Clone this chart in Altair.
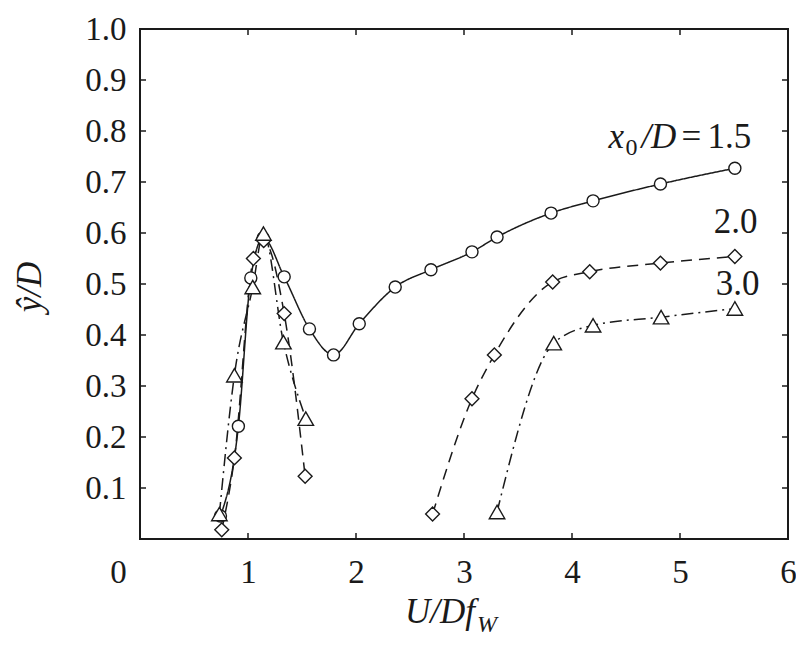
import altair as alt
import pandas as pd

# ---- data ----
series_names = ["1.5", "2.0", "3.0"]
series_shapes = ["circle", "diamond", "triangle-up"]
series_sizes = [145, 240, 230]

c_x = [0.745, 0.911, 1.026, 1.14, 1.335, 1.569, 1.792, 2.03, 2.363, 2.694, 3.074, 3.306, 3.806, 4.195, 4.819, 5.508]
c_y = [0.045, 0.221, 0.512, 0.59, 0.514, 0.412, 0.361, 0.422, 0.494, 0.528, 0.563, 0.592, 0.639, 0.663, 0.696, 0.727]
c_seg = ["a"] * len(c_x)

d_x = [0.757, 0.874, 1.05, 1.145, 1.335, 1.529, 2.709, 3.074, 3.281, 3.821, 4.164, 4.819, 5.508]
d_y = [0.018, 0.159, 0.55, 0.585, 0.442, 0.123, 0.049, 0.275, 0.361, 0.504, 0.524, 0.541, 0.554]
d_seg = ["a"] * 6 + ["b"] * 7

t_x = [0.735, 0.874, 1.044, 1.143, 1.328, 1.535, 3.306, 3.831, 4.195, 4.825, 5.508]
t_y = [0.049, 0.321, 0.494, 0.599, 0.386, 0.236, 0.053, 0.384, 0.419, 0.435, 0.452]
t_seg = ["a"] * 6 + ["b"] * 5

x_tick_values = [0, 1, 2, 3, 4, 5, 6]
y_tick_values = [0.1, 0.2, 0.3, 0.4, 0.5, 0.6, 0.7, 0.8, 0.9, 1.0]
x_minor = [1, 2, 3, 4, 5]
y_minor = [0.1, 0.2, 0.3, 0.4, 0.5, 0.6, 0.7, 0.8, 0.9]

label_text = ["2.0", "3.0"]
label_x = [5.514, 5.533]
label_y = [0.600, 0.478]
main_label_x = [4.337]
main_label_y = [0.766]

# ---- build tables ----
rows = []
for name, xs, ys, segs in [("1.5", c_x, c_y, c_seg), ("2.0", d_x, d_y, d_seg), ("3.0", t_x, t_y, t_seg)]:
    for i, (xv, yv, s) in enumerate(zip(xs, ys, segs)):
        rows.append({"series": name, "seg": name + s, "x": xv, "y": yv, "order": i})
df = pd.DataFrame(rows)

FONT = "Liberation Serif, Times New Roman, Times, DejaVu Serif, serif"
INK = "#1a1a1a"
W, H = 648, 510

xscale = alt.Scale(domain=[0, 6], nice=False, zero=False)
yscale = alt.Scale(domain=[0, 1], nice=False, zero=False)

X = alt.X("x:Q", scale=xscale, title=None,
          axis=alt.Axis(values=x_tick_values, format="d", labelFlush=False,
                        labelOffset={"condition": {"test": "datum.value == 0", "value": -22}, "value": 0},
                        labelPadding=17, labelFontSize=33, labelFont=FONT, labelColor=INK,
                        ticks=False, tickSize=0, domain=False, grid=False))
Y = alt.Y("y:Q", scale=yscale, title=None,
          axis=alt.Axis(values=y_tick_values, format=".1f",
                        labelPadding=14, labelFontSize=33, labelFont=FONT, labelColor=INK,
                        ticks=False, tickSize=0, domain=False, grid=False))

lines = alt.Chart(df).mark_line(interpolate="monotone", strokeWidth=1.5, color=INK).encode(
    x=X, y=Y, detail="seg:N", order="order:Q",
    strokeDash=alt.StrokeDash("series:N", legend=None,
                              scale=alt.Scale(domain=series_names, range=[[1, 0], [11, 7], [12, 5, 2, 5]])),
)

points = alt.Chart(df).mark_point(filled=False, fill="white", fillOpacity=1, stroke=INK,
                                  strokeWidth=1.4, opacity=1).encode(
    x=X, y=Y,
    shape=alt.Shape("series:N", legend=None,
                    scale=alt.Scale(domain=series_names, range=series_shapes)),
    size=alt.Size("series:N", legend=None,
                  scale=alt.Scale(domain=series_names, range=series_sizes)),
)

xt = pd.DataFrame({"x": x_minor})
yt = pd.DataFrame({"y": y_minor})
tick_bottom = alt.Chart(xt).mark_rule(color=INK, strokeWidth=1.5).encode(x=X, y=alt.value(H), y2=alt.value(H - 6))
tick_top = alt.Chart(xt).mark_rule(color=INK, strokeWidth=1.5).encode(x=X, y=alt.value(0), y2=alt.value(6))
tick_left = alt.Chart(yt).mark_rule(color=INK, strokeWidth=1.5).encode(y=Y, x=alt.value(0), x2=alt.value(6))
tick_right = alt.Chart(yt).mark_rule(color=INK, strokeWidth=1.5).encode(y=Y, x=alt.value(W), x2=alt.value(W - 6))

lab_df = pd.DataFrame({"x": label_x, "y": label_y, "t": label_text})
labels = alt.Chart(lab_df).mark_text(font=FONT, fontSize=35, color=INK, align="center",
                                     baseline="alphabetic").encode(x=X, y=Y, text="t:N")

main_df = pd.DataFrame({"x": main_label_x, "y": main_label_y})
m1 = alt.Chart(main_df).mark_text(font=FONT, fontSize=35, fontStyle="italic", color=INK,
                                  align="left", baseline="alphabetic", text="x").encode(x=X, y=Y)
m2 = alt.Chart(main_df).mark_text(font=FONT, fontSize=24, color=INK, align="left",
                                  baseline="alphabetic", text="0", dx=17, dy=7).encode(x=X, y=Y)
m3 = alt.Chart(main_df).mark_text(font=FONT, fontSize=35, fontStyle="italic", color=INK,
                                  align="left", baseline="alphabetic", text="/D", dx=33).encode(x=X, y=Y)
m4 = alt.Chart(main_df).mark_text(font=FONT, fontSize=35, color=INK, align="left",
                                  baseline="alphabetic", text="=", dx=73).encode(x=X, y=Y)
m5 = alt.Chart(main_df).mark_text(font=FONT, fontSize=35, color=INK, align="left",
                                  baseline="alphabetic", text="1.5", dx=99).encode(x=X, y=Y)

title_df = pd.DataFrame({"t": ["U/Df"], "s": ["W"], "yt": ["ŷ/D"]})
xt1 = alt.Chart(title_df).mark_text(font=FONT, fontSize=35, fontStyle="italic", color=INK,
                                    align="left", baseline="alphabetic").encode(
    x=alt.value(265), y=alt.value(594), text="t:N")
xt2 = alt.Chart(title_df).mark_text(font=FONT, fontSize=24, fontStyle="italic", color=INK,
                                    align="left", baseline="alphabetic").encode(
    x=alt.value(337), y=alt.value(603), text="s:N")
yt1 = alt.Chart(title_df).mark_text(font=FONT, fontSize=35, fontStyle="italic", color=INK,
                                    align="center", baseline="middle", angle=270).encode(
    x=alt.value(-110), y=alt.value(258), text="yt:N")

chart = alt.layer(
    lines, points, tick_bottom, tick_top, tick_left, tick_right,
    labels, m1, m2, m3, m4, m5, xt1, xt2, yt1,
).properties(
    width=W, height=H,
    autosize=alt.AutoSizeParams(type="none"),
    padding={"left": 132, "top": 21, "right": 8, "bottom": 100},
    background="white",
).configure_view(
    stroke=INK, strokeWidth=2,
)

chart.save("out.html", embed_options={"renderer": "svg", "actions": False})
